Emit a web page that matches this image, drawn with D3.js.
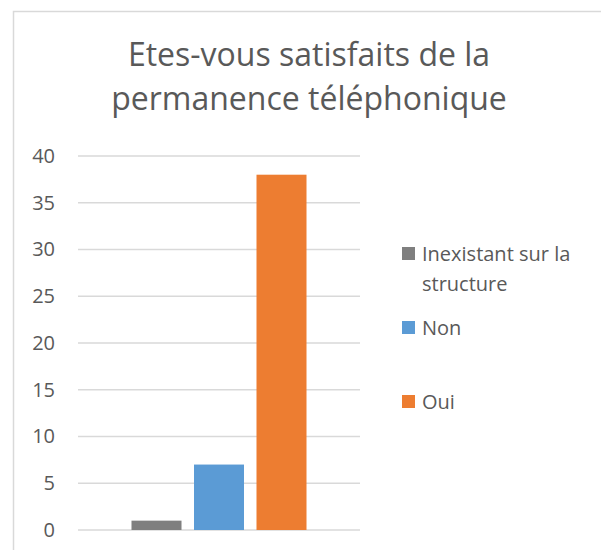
<!DOCTYPE html>
<html>
<head>
<meta charset="utf-8">
<script src="https://cdn.jsdelivr.net/npm/d3@7"></script>
<style>
  body { margin: 0; background: #fff; }
  text { font-family: "Open Sans", sans-serif; fill: #595959; }
</style>
</head>
<body>
<div id="chart"></div>
<script>
// chart data
var titleLines = ["Etes-vous satisfaits de la", "permanence téléphonique"];
var series = ["Inexistant sur la structure", "Non", "Oui"];
var legendLines = [["Inexistant sur la", "structure"], ["Non"], ["Oui"]];
var values = [1, 7, 38];
var colors = ["#7f7f7f", "#5b9bd5", "#ed7d31"];
var yTicks = [0, 5, 10, 15, 20, 25, 30, 35, 40];

var svgWidth = 601;
var svgHeight = 550;

var plot = { left: 78, right: 360, top: 156, bottom: 530 };

var svg = d3.select("#chart")
    .append("svg")
    .attr("width", svgWidth)
    .attr("height", svgHeight);

// chart border (only top and left visible in the crop)
svg.append("path")
    .attr("d", "M13.5," + svgHeight + "V11.5H" + svgWidth)
    .attr("fill", "none")
    .attr("stroke", "#d9d9d9")
    .attr("stroke-width", 1.5);

// title
svg.append("text")
    .attr("x", 309)
    .attr("y", 66)
    .attr("text-anchor", "middle")
    .style("font-size", "32px")
    .selectAll("tspan")
    .data(titleLines)
    .enter()
    .append("tspan")
    .attr("x", 309)
    .attr("dy", (d, i) => i === 0 ? 0 : 44)
    .text(d => d);

var y = d3.scaleLinear()
    .domain([0, 40])
    .range([plot.bottom, plot.top]);

// one category, three series side by side
var x = d3.scaleBand()
    .domain(series)
    .range([plot.left + 53.5, plot.right - 53.5])
    .paddingInner(0.2);

// gridlines
svg.append("g")
    .selectAll("line")
    .data(yTicks)
    .enter()
    .append("line")
    .attr("x1", plot.left)
    .attr("x2", plot.right)
    .attr("y1", d => y(d))
    .attr("y2", d => y(d))
    .attr("stroke", "#d9d9d9")
    .attr("stroke-width", 1.5);

// y axis labels
var yAxis = d3.axisLeft(y)
    .tickValues(yTicks)
    .tickSize(0)
    .tickPadding(0);

var yAxisG = svg.append("g")
    .attr("transform", "translate(55,0)")
    .call(yAxis);
yAxisG.select(".domain").remove();
yAxisG.selectAll("text")
    .style("font-size", "20px")
    .style("font-family", "Open Sans, sans-serif")
    .attr("fill", "#595959");

// bars
svg.append("g")
    .selectAll("rect")
    .data(values)
    .enter()
    .append("rect")
    .attr("x", (d, i) => x(series[i]))
    .attr("width", x.bandwidth())
    .attr("y", d => y(d))
    .attr("height", d => y(0) - y(d))
    .attr("fill", (d, i) => colors[i]);

// legend
var legendTop = [261, 335, 409];
var legend = svg.append("g")
    .selectAll("g")
    .data(series)
    .enter()
    .append("g")
    .attr("transform", (d, i) => "translate(402," + legendTop[i] + ")");

legend.append("rect")
    .attr("x", 0)
    .attr("y", -14)
    .attr("width", 13)
    .attr("height", 13)
    .attr("fill", (d, i) => colors[i]);

legend.append("text")
    .style("font-size", "20px")
    .selectAll("tspan")
    .data((d, i) => legendLines[i])
    .enter()
    .append("tspan")
    .attr("x", 20)
    .attr("y", (d, j) => j * 30)
    .text(d => d);
</script>
</body>
</html>
